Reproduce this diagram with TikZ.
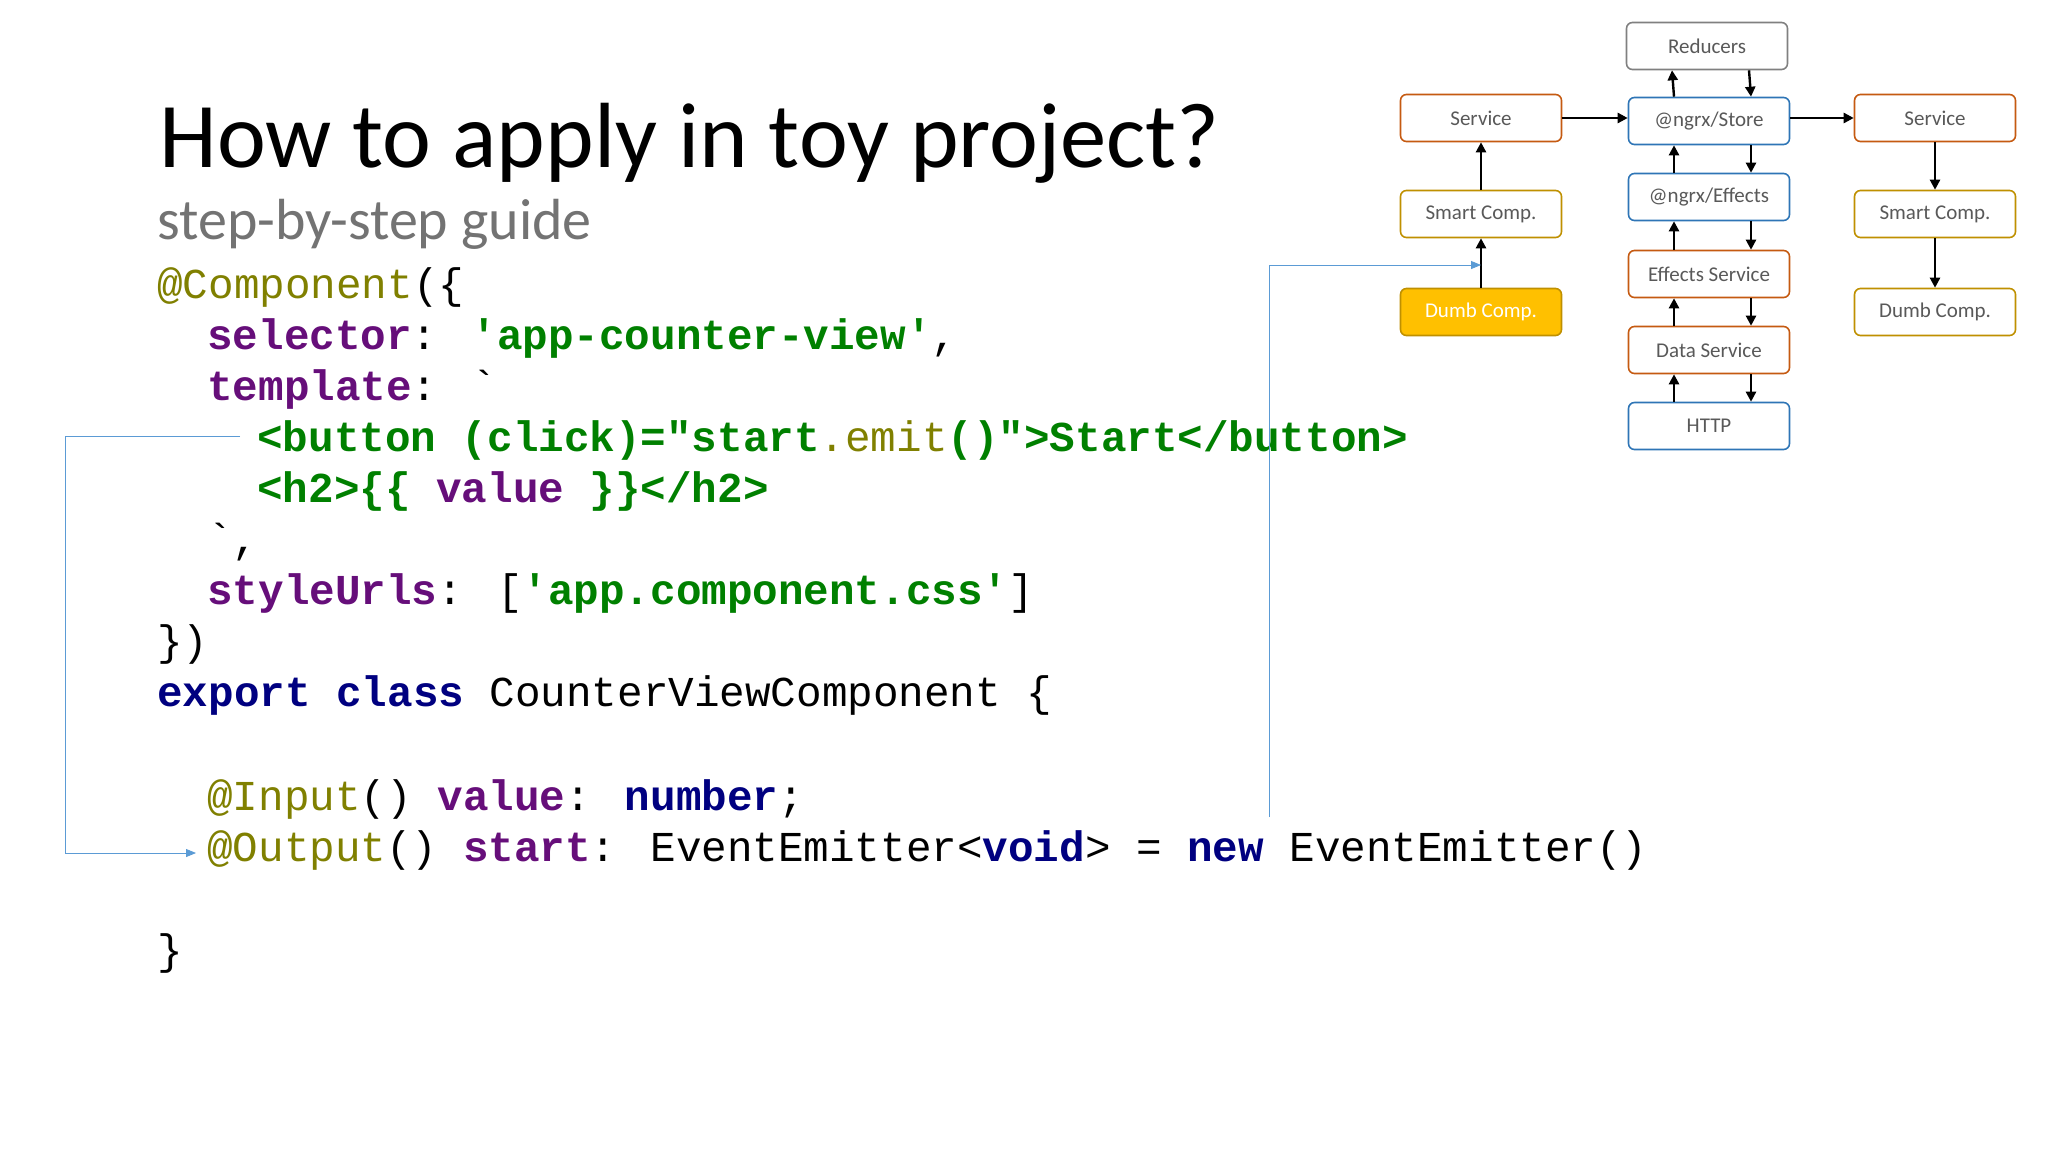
\documentclass[tikz,border=0pt]{standalone}
\usepackage{fontspec}
\setmainfont{Carlito}
\newfontfamily\codefont{Liberation Mono}
\usetikzlibrary{arrows.meta}
\definecolor{kwpurple}{HTML}{660E7A}
\definecolor{strgreen}{HTML}{008000}
\definecolor{annolive}{HTML}{808000}
\definecolor{navyblue}{HTML}{000080}
\definecolor{boxorange}{HTML}{C55A11}
\definecolor{boxgold}{HTML}{BF9000}
\definecolor{boxblue}{HTML}{2E75B6}
\definecolor{linkblue}{HTML}{5B9BD5}
\definecolor{dumbfill}{HTML}{FFC000}
\newcommand\cKw[1]{\textcolor{kwpurple}{\bfseries #1}}
\newcommand\cStr[1]{\textcolor{strgreen}{\bfseries #1}}
\newcommand\cAnn[1]{\textcolor{annolive}{#1}}
\newcommand\cNav[1]{\textcolor{navyblue}{\bfseries #1}}
\tikzset{
  code/.style={anchor=base west, inner sep=0pt, font=\codefont\fontsize{21.3}{24}\selectfont},
  box/.style={draw, thick, rounded corners=3pt, fill=white, minimum width=80.5pt, minimum height=23.5pt, text=black!65, font=\fontsize{10.5}{12}\selectfont},
  flow/.style={very thick, -{Triangle[length=5pt,width=5pt]}},
  link/.style={linkblue, thin, -{Triangle[length=5pt,width=4pt]}}
}
\begin{document}
\begin{tikzpicture}[x=0.5pt,y=-0.5pt]
\useasboundingbox[fill=white] (0,0) rectangle (2048,1152);
\node[anchor=base west, inner sep=0pt, font=\fontsize{46.3}{54}\selectfont] (title) at (159,167) {How to apply in toy project?};
\node[anchor=base west, inner sep=0pt, text=black!55, font=\fontsize{29}{33}\selectfont] (sub) at (157,239) {step-by-step guide};
% code
\node[code] (l1) at (157,298) {\cAnn{@Component}(\{};
\node[code] (l2) at (207,349) {\cKw{selector}: \cStr{'app-counter-view'},};
\node[code] (l3) at (207,400) {\cKw{template}: `};
\node[code] (l4) at (257,451) {\cStr{<button (click)="start}\cAnn{.emit}\cStr{()">Start</button>}};
\node[code] (l5) at (257,502) {\cStr{<h2>\{\{} \cKw{value} \cStr{\}\}</h2>}};
\node[code] (l6) at (207,553) {`,};
\node[code] (l7) at (207,604) {\cKw{styleUrls}: [\cStr{'app.component.css'}]};
\node[code] (l8) at (157,655) {\})};
\node[code] (l9) at (157,706) {\cNav{export class} CounterViewComponent \{};
\node[code] (l10) at (207,810) {\cAnn{@Input}() \cKw{value}: \cNav{number};};
\node[code] (l11) at (207,861) {\cAnn{@Output}() \cKw{start}: EventEmitter<\cNav{void}> = \cNav{new} EventEmitter()};
\node[code] (l12) at (157,964) {\}};
% boxes
\node[box, draw=boxorange] (svl) at (1481,118) {Service};
\node[box, draw=boxgold] (sml) at (1481,214) {Smart Comp.};
\node[box, draw=boxgold, fill=dumbfill, text=white] (dml) at (1481,312) {Dumb Comp.};
\node[box, draw=black!50] (red) at (1707,46) {Reducers};
\node[box, draw=boxblue] (sto) at (1709,121) {@ngrx/Store};
\node[box, draw=boxblue] (eff) at (1709,197) {@ngrx/Effects};
\node[box, draw=boxorange] (esv) at (1709,274) {Effects Service};
\node[box, draw=boxorange] (dsv) at (1709,350) {Data Service};
\node[box, draw=boxblue] (htp) at (1709,426) {HTTP};
\node[box, draw=boxorange] (svr) at (1935,118) {Service};
\node[box, draw=boxgold] (smr) at (1935,214) {Smart Comp.};
\node[box, draw=boxgold] (dmr) at (1935,312) {Dumb Comp.};
% arrows
\draw[flow] (svl) -- (svl -| sto.west);
\draw[flow] (sto.east |- svr) -- (svr);
\draw[flow] (sml) -- (svl);
\draw[flow] (dml) -- (sml);
\draw[flow] (svr) -- (smr);
\draw[flow] (smr) -- (dmr);
\foreach \a/\b in {sto/red, eff/sto, esv/eff, dsv/esv, htp/dsv} {
  \draw[flow] ([xshift=-17.5pt]\a.north) -- ([xshift=-17.5pt]\b.south);
  \draw[flow] ([xshift=21pt]\b.south) -- ([xshift=21pt]\a.north);
}
% links
\coordinate (p1) at (240,436);
\coordinate (p2) at (196,853);
\draw[link] (p1) -- (65,436) |- (p2);
\coordinate (p3) at (1269,817);
\coordinate (p4) at (1481,265);
\draw[link] (p3) |- (p4);
\end{tikzpicture}
\end{document}
